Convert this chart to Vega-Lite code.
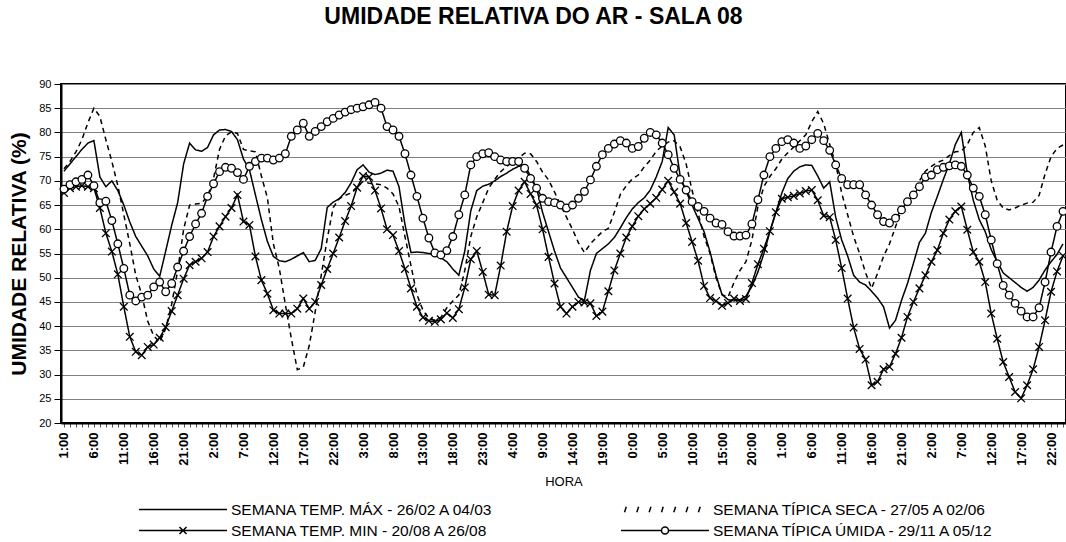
{
"$schema":"https://vega.github.io/schema/vega-lite/v6.json",
"width":1005,"height":339,
"autosize":{"type":"none"},
"padding":{"left":61,"top":84,"right":0,"bottom":119},
"background":"white",
"config":{"view":{"stroke":"black","strokeWidth":2},"font":"Liberation Sans"},
"title":{"text":"UMIDADE RELATIVA DO AR - SALA 08","font":"Liberation Sans","fontSize":23,"fontWeight":"bold","color":"black","anchor":"middle","frame":"group","offset":49,"dx":-30},
"data":{"values":[
{"h":0,"s":"MAX","v":72},{"h":1,"s":"MAX","v":73.5},{"h":2,"s":"MAX","v":75},{"h":3,"s":"MAX","v":76.5},{"h":4,"s":"MAX","v":77.8},{"h":5,"s":"MAX","v":78.3},{"h":6,"s":"MAX","v":70.8},{"h":7,"s":"MAX","v":68.8},{"h":8,"s":"MAX","v":70},{"h":9,"s":"MAX","v":68},
{"h":10,"s":"MAX","v":65},{"h":11,"s":"MAX","v":61.5},{"h":12,"s":"MAX","v":58.5},{"h":13,"s":"MAX","v":56.5},{"h":14,"s":"MAX","v":54.5},{"h":15,"s":"MAX","v":51.8},{"h":16,"s":"MAX","v":50.3},{"h":17,"s":"MAX","v":55.5},{"h":18,"s":"MAX","v":60.8},{"h":19,"s":"MAX","v":65.5},
{"h":20,"s":"MAX","v":73.5},{"h":21,"s":"MAX","v":77.8},{"h":22,"s":"MAX","v":76.4},{"h":23,"s":"MAX","v":76.1},{"h":24,"s":"MAX","v":76.9},{"h":25,"s":"MAX","v":79.5},{"h":26,"s":"MAX","v":80.5},{"h":27,"s":"MAX","v":80.6},{"h":28,"s":"MAX","v":80.2},{"h":29,"s":"MAX","v":78.5},
{"h":30,"s":"MAX","v":74.5},{"h":31,"s":"MAX","v":72.3},{"h":32,"s":"MAX","v":67.1},{"h":33,"s":"MAX","v":62},{"h":34,"s":"MAX","v":57.5},{"h":35,"s":"MAX","v":54.4},{"h":36,"s":"MAX","v":53.5},{"h":37,"s":"MAX","v":53.3},{"h":38,"s":"MAX","v":53.8},{"h":39,"s":"MAX","v":54.5},
{"h":40,"s":"MAX","v":55.2},{"h":41,"s":"MAX","v":53.3},{"h":42,"s":"MAX","v":53.6},{"h":43,"s":"MAX","v":56},{"h":44,"s":"MAX","v":64.5},{"h":45,"s":"MAX","v":65.6},{"h":46,"s":"MAX","v":66.3},{"h":47,"s":"MAX","v":67.6},{"h":48,"s":"MAX","v":69.6},{"h":49,"s":"MAX","v":72.3},
{"h":50,"s":"MAX","v":73.3},{"h":51,"s":"MAX","v":71.8},{"h":52,"s":"MAX","v":71.3},{"h":53,"s":"MAX","v":71.6},{"h":54,"s":"MAX","v":72.2},{"h":55,"s":"MAX","v":72},{"h":56,"s":"MAX","v":68.8},{"h":57,"s":"MAX","v":61},{"h":58,"s":"MAX","v":55.2},{"h":59,"s":"MAX","v":55.3},
{"h":60,"s":"MAX","v":55.2},{"h":61,"s":"MAX","v":55},{"h":62,"s":"MAX","v":54.7},{"h":63,"s":"MAX","v":54.1},{"h":64,"s":"MAX","v":53.3},{"h":65,"s":"MAX","v":51.8},{"h":66,"s":"MAX","v":50.5},{"h":67,"s":"MAX","v":55.5},{"h":68,"s":"MAX","v":63.8},{"h":69,"s":"MAX","v":68},
{"h":70,"s":"MAX","v":68.9},{"h":71,"s":"MAX","v":69.3},{"h":72,"s":"MAX","v":70},{"h":73,"s":"MAX","v":70.9},{"h":74,"s":"MAX","v":71.6},{"h":75,"s":"MAX","v":72.4},{"h":76,"s":"MAX","v":73},{"h":77,"s":"MAX","v":73.2},{"h":78,"s":"MAX","v":71},{"h":79,"s":"MAX","v":68.5},
{"h":80,"s":"MAX","v":63.5},{"h":81,"s":"MAX","v":59.5},{"h":82,"s":"MAX","v":55.5},{"h":83,"s":"MAX","v":52},{"h":84,"s":"MAX","v":50},{"h":85,"s":"MAX","v":48},{"h":86,"s":"MAX","v":46},{"h":87,"s":"MAX","v":45.3},{"h":88,"s":"MAX","v":51.5},{"h":89,"s":"MAX","v":55},
{"h":90,"s":"MAX","v":56},{"h":91,"s":"MAX","v":57},{"h":92,"s":"MAX","v":58.3},{"h":93,"s":"MAX","v":60.3},{"h":94,"s":"MAX","v":62.4},{"h":95,"s":"MAX","v":64.2},{"h":96,"s":"MAX","v":65.5},{"h":97,"s":"MAX","v":66.5},{"h":98,"s":"MAX","v":68.1},{"h":99,"s":"MAX","v":70.8},
{"h":100,"s":"MAX","v":74},{"h":101,"s":"MAX","v":81},{"h":102,"s":"MAX","v":79.5},{"h":103,"s":"MAX","v":71},{"h":104,"s":"MAX","v":67.8},{"h":105,"s":"MAX","v":65},{"h":106,"s":"MAX","v":62.2},{"h":107,"s":"MAX","v":59.5},{"h":108,"s":"MAX","v":55.3},{"h":109,"s":"MAX","v":50.5},
{"h":110,"s":"MAX","v":46.5},{"h":111,"s":"MAX","v":45.5},{"h":112,"s":"MAX","v":45.2},{"h":113,"s":"MAX","v":45.5},{"h":114,"s":"MAX","v":46.2},{"h":115,"s":"MAX","v":48.2},{"h":116,"s":"MAX","v":51.2},{"h":117,"s":"MAX","v":55},{"h":118,"s":"MAX","v":59.5},{"h":119,"s":"MAX","v":63.5},
{"h":120,"s":"MAX","v":67.5},{"h":121,"s":"MAX","v":70.5},{"h":122,"s":"MAX","v":72},{"h":123,"s":"MAX","v":72.9},{"h":124,"s":"MAX","v":73.3},{"h":125,"s":"MAX","v":73.2},{"h":126,"s":"MAX","v":71},{"h":127,"s":"MAX","v":68.5},{"h":128,"s":"MAX","v":69.8},{"h":129,"s":"MAX","v":62.5},
{"h":130,"s":"MAX","v":57.8},{"h":131,"s":"MAX","v":54.5},{"h":132,"s":"MAX","v":50.5},{"h":133,"s":"MAX","v":49.1},{"h":134,"s":"MAX","v":48.5},{"h":135,"s":"MAX","v":47.2},{"h":136,"s":"MAX","v":45.8},{"h":137,"s":"MAX","v":44},{"h":138,"s":"MAX","v":39.6},{"h":139,"s":"MAX","v":41.2},
{"h":140,"s":"MAX","v":45.3},{"h":141,"s":"MAX","v":48.8},{"h":142,"s":"MAX","v":53},{"h":143,"s":"MAX","v":57.3},{"h":144,"s":"MAX","v":59.2},{"h":145,"s":"MAX","v":63.5},{"h":146,"s":"MAX","v":66.8},{"h":147,"s":"MAX","v":70.3},{"h":148,"s":"MAX","v":73.5},{"h":149,"s":"MAX","v":77.5},
{"h":150,"s":"MAX","v":80},{"h":151,"s":"MAX","v":71.5},{"h":152,"s":"MAX","v":66},{"h":153,"s":"MAX","v":62},{"h":154,"s":"MAX","v":59.5},{"h":155,"s":"MAX","v":55.8},{"h":156,"s":"MAX","v":53.3},{"h":157,"s":"MAX","v":51},{"h":158,"s":"MAX","v":50},{"h":159,"s":"MAX","v":49},
{"h":160,"s":"MAX","v":48},{"h":161,"s":"MAX","v":47.2},{"h":162,"s":"MAX","v":48},{"h":163,"s":"MAX","v":49.5},{"h":164,"s":"MAX","v":51.6},{"h":165,"s":"MAX","v":53.3},{"h":166,"s":"MAX","v":54.8},{"h":167,"s":"MAX","v":57},
{"h":0,"s":"SECA","v":72.5},{"h":1,"s":"SECA","v":74},{"h":2,"s":"SECA","v":76},{"h":3,"s":"SECA","v":78.5},{"h":4,"s":"SECA","v":82},{"h":5,"s":"SECA","v":85},{"h":6,"s":"SECA","v":83.3},{"h":7,"s":"SECA","v":78.5},{"h":8,"s":"SECA","v":74},{"h":9,"s":"SECA","v":69},
{"h":10,"s":"SECA","v":63},{"h":11,"s":"SECA","v":57},{"h":12,"s":"SECA","v":50.5},{"h":13,"s":"SECA","v":46.5},{"h":14,"s":"SECA","v":41},{"h":15,"s":"SECA","v":38},{"h":16,"s":"SECA","v":36.7},{"h":17,"s":"SECA","v":39.5},{"h":18,"s":"SECA","v":44.5},{"h":19,"s":"SECA","v":51.5},
{"h":20,"s":"SECA","v":60},{"h":21,"s":"SECA","v":65},{"h":22,"s":"SECA","v":65.2},{"h":23,"s":"SECA","v":65.4},{"h":24,"s":"SECA","v":66.8},{"h":25,"s":"SECA","v":70.5},{"h":26,"s":"SECA","v":76.5},{"h":27,"s":"SECA","v":79.3},{"h":28,"s":"SECA","v":80.1},{"h":29,"s":"SECA","v":79.8},
{"h":30,"s":"SECA","v":76.5},{"h":31,"s":"SECA","v":76.2},{"h":32,"s":"SECA","v":76},{"h":33,"s":"SECA","v":71},{"h":34,"s":"SECA","v":66.5},{"h":35,"s":"SECA","v":57},{"h":36,"s":"SECA","v":51.9},{"h":37,"s":"SECA","v":44.5},{"h":38,"s":"SECA","v":37.5},{"h":39,"s":"SECA","v":31},
{"h":40,"s":"SECA","v":31.5},{"h":41,"s":"SECA","v":36},{"h":42,"s":"SECA","v":43},{"h":43,"s":"SECA","v":50.5},{"h":44,"s":"SECA","v":58},{"h":45,"s":"SECA","v":64.5},{"h":46,"s":"SECA","v":66.3},{"h":47,"s":"SECA","v":67},{"h":48,"s":"SECA","v":67.5},{"h":49,"s":"SECA","v":68.8},
{"h":50,"s":"SECA","v":69.9},{"h":51,"s":"SECA","v":69.5},{"h":52,"s":"SECA","v":69.4},{"h":53,"s":"SECA","v":69.2},{"h":54,"s":"SECA","v":68.5},{"h":55,"s":"SECA","v":67.3},{"h":56,"s":"SECA","v":64.7},{"h":57,"s":"SECA","v":58.5},{"h":58,"s":"SECA","v":52.5},{"h":59,"s":"SECA","v":46.5},
{"h":60,"s":"SECA","v":43.3},{"h":61,"s":"SECA","v":41.6},{"h":62,"s":"SECA","v":41.2},{"h":63,"s":"SECA","v":41.8},{"h":64,"s":"SECA","v":43.8},{"h":65,"s":"SECA","v":45.2},{"h":66,"s":"SECA","v":46.4},{"h":67,"s":"SECA","v":51.5},{"h":68,"s":"SECA","v":58.5},{"h":69,"s":"SECA","v":62.6},
{"h":70,"s":"SECA","v":65.5},{"h":71,"s":"SECA","v":68.5},{"h":72,"s":"SECA","v":70.3},{"h":73,"s":"SECA","v":71.9},{"h":74,"s":"SECA","v":73},{"h":75,"s":"SECA","v":73.9},{"h":76,"s":"SECA","v":74.7},{"h":77,"s":"SECA","v":75.7},{"h":78,"s":"SECA","v":75.6},{"h":79,"s":"SECA","v":74},
{"h":80,"s":"SECA","v":71.8},{"h":81,"s":"SECA","v":70.2},{"h":82,"s":"SECA","v":67.7},{"h":83,"s":"SECA","v":65},{"h":84,"s":"SECA","v":62.5},{"h":85,"s":"SECA","v":60},{"h":86,"s":"SECA","v":57.2},{"h":87,"s":"SECA","v":55.2},{"h":88,"s":"SECA","v":57},{"h":89,"s":"SECA","v":58.3},
{"h":90,"s":"SECA","v":59.5},{"h":91,"s":"SECA","v":60.2},{"h":92,"s":"SECA","v":63.5},{"h":93,"s":"SECA","v":67.2},{"h":94,"s":"SECA","v":69},{"h":95,"s":"SECA","v":70.4},{"h":96,"s":"SECA","v":71.2},{"h":97,"s":"SECA","v":72.9},{"h":98,"s":"SECA","v":74.3},{"h":99,"s":"SECA","v":76.1},
{"h":100,"s":"SECA","v":77.2},{"h":101,"s":"SECA","v":78},{"h":102,"s":"SECA","v":78.3},{"h":103,"s":"SECA","v":77},{"h":104,"s":"SECA","v":73.5},{"h":105,"s":"SECA","v":68},{"h":106,"s":"SECA","v":63.3},{"h":107,"s":"SECA","v":58.5},{"h":108,"s":"SECA","v":55},{"h":109,"s":"SECA","v":50},
{"h":110,"s":"SECA","v":46.5},{"h":111,"s":"SECA","v":46},{"h":112,"s":"SECA","v":49},{"h":113,"s":"SECA","v":51.5},{"h":114,"s":"SECA","v":53.3},{"h":115,"s":"SECA","v":57.8},{"h":116,"s":"SECA","v":64.7},{"h":117,"s":"SECA","v":68.8},{"h":118,"s":"SECA","v":70.9},{"h":119,"s":"SECA","v":72.5},
{"h":120,"s":"SECA","v":74.5},{"h":121,"s":"SECA","v":75.8},{"h":122,"s":"SECA","v":77},{"h":123,"s":"SECA","v":78.3},{"h":124,"s":"SECA","v":79.5},{"h":125,"s":"SECA","v":82.2},{"h":126,"s":"SECA","v":84.3},{"h":127,"s":"SECA","v":81.8},{"h":128,"s":"SECA","v":77.5},{"h":129,"s":"SECA","v":73.5},
{"h":130,"s":"SECA","v":67.5},{"h":131,"s":"SECA","v":63},{"h":132,"s":"SECA","v":58.5},{"h":133,"s":"SECA","v":55},{"h":134,"s":"SECA","v":51},{"h":135,"s":"SECA","v":47.8},{"h":136,"s":"SECA","v":50.9},{"h":137,"s":"SECA","v":54.4},{"h":138,"s":"SECA","v":57},{"h":139,"s":"SECA","v":60.5},
{"h":140,"s":"SECA","v":64},{"h":141,"s":"SECA","v":66},{"h":142,"s":"SECA","v":68},{"h":143,"s":"SECA","v":70},{"h":144,"s":"SECA","v":72},{"h":145,"s":"SECA","v":73},{"h":146,"s":"SECA","v":73.8},{"h":147,"s":"SECA","v":74.3},{"h":148,"s":"SECA","v":75.2},{"h":149,"s":"SECA","v":76},
{"h":150,"s":"SECA","v":76.1},{"h":151,"s":"SECA","v":77.5},{"h":152,"s":"SECA","v":80},{"h":153,"s":"SECA","v":81},{"h":154,"s":"SECA","v":77.2},{"h":155,"s":"SECA","v":70},{"h":156,"s":"SECA","v":66},{"h":157,"s":"SECA","v":64.4},{"h":158,"s":"SECA","v":64},{"h":159,"s":"SECA","v":64.4},
{"h":160,"s":"SECA","v":65},{"h":161,"s":"SECA","v":65.4},{"h":162,"s":"SECA","v":65.6},{"h":163,"s":"SECA","v":67},{"h":164,"s":"SECA","v":71.4},{"h":165,"s":"SECA","v":75},{"h":166,"s":"SECA","v":76.7},{"h":167,"s":"SECA","v":77.4},
{"h":0,"s":"MIN","v":67.5},{"h":1,"s":"MIN","v":68.5},{"h":2,"s":"MIN","v":68.8},{"h":3,"s":"MIN","v":69},{"h":4,"s":"MIN","v":68.8},{"h":5,"s":"MIN","v":68.5},{"h":6,"s":"MIN","v":64.4},{"h":7,"s":"MIN","v":59.2},{"h":8,"s":"MIN","v":55.4},{"h":9,"s":"MIN","v":50.7},
{"h":10,"s":"MIN","v":44},{"h":11,"s":"MIN","v":37.8},{"h":12,"s":"MIN","v":34.7},{"h":13,"s":"MIN","v":34},{"h":14,"s":"MIN","v":35.7},{"h":15,"s":"MIN","v":36.2},{"h":16,"s":"MIN","v":37.6},{"h":17,"s":"MIN","v":39.8},{"h":18,"s":"MIN","v":43.1},{"h":19,"s":"MIN","v":46.4},
{"h":20,"s":"MIN","v":49.8},{"h":21,"s":"MIN","v":52.6},{"h":22,"s":"MIN","v":53.3},{"h":23,"s":"MIN","v":54},{"h":24,"s":"MIN","v":55.3},{"h":25,"s":"MIN","v":58.5},{"h":26,"s":"MIN","v":60.6},{"h":27,"s":"MIN","v":62.6},{"h":28,"s":"MIN","v":64.4},{"h":29,"s":"MIN","v":67.1},
{"h":30,"s":"MIN","v":61.6},{"h":31,"s":"MIN","v":60.9},{"h":32,"s":"MIN","v":54.4},{"h":33,"s":"MIN","v":49.5},{"h":34,"s":"MIN","v":46.7},{"h":35,"s":"MIN","v":43.3},{"h":36,"s":"MIN","v":42.6},{"h":37,"s":"MIN","v":42.6},{"h":38,"s":"MIN","v":42.6},{"h":39,"s":"MIN","v":43.6},
{"h":40,"s":"MIN","v":45.7},{"h":41,"s":"MIN","v":43.6},{"h":42,"s":"MIN","v":45},{"h":43,"s":"MIN","v":48.5},{"h":44,"s":"MIN","v":51.8},{"h":45,"s":"MIN","v":55},{"h":46,"s":"MIN","v":58.3},{"h":47,"s":"MIN","v":61.7},{"h":48,"s":"MIN","v":64.8},{"h":49,"s":"MIN","v":68.6},
{"h":50,"s":"MIN","v":71},{"h":51,"s":"MIN","v":70.8},{"h":52,"s":"MIN","v":68},{"h":53,"s":"MIN","v":64.3},{"h":54,"s":"MIN","v":60},{"h":55,"s":"MIN","v":58.8},{"h":56,"s":"MIN","v":55.5},{"h":57,"s":"MIN","v":51.8},{"h":58,"s":"MIN","v":47.8},{"h":59,"s":"MIN","v":44},
{"h":60,"s":"MIN","v":41.8},{"h":61,"s":"MIN","v":41.1},{"h":62,"s":"MIN","v":40.9},{"h":63,"s":"MIN","v":41.4},{"h":64,"s":"MIN","v":42.7},{"h":65,"s":"MIN","v":41.7},{"h":66,"s":"MIN","v":43.5},{"h":67,"s":"MIN","v":48},{"h":68,"s":"MIN","v":53.8},{"h":69,"s":"MIN","v":55.5},
{"h":70,"s":"MIN","v":51.2},{"h":71,"s":"MIN","v":46.5},{"h":72,"s":"MIN","v":46.4},{"h":73,"s":"MIN","v":52.5},{"h":74,"s":"MIN","v":59.5},{"h":75,"s":"MIN","v":64.8},{"h":76,"s":"MIN","v":68},{"h":77,"s":"MIN","v":69.8},{"h":78,"s":"MIN","v":67.3},{"h":79,"s":"MIN","v":65},
{"h":80,"s":"MIN","v":60},{"h":81,"s":"MIN","v":54.3},{"h":82,"s":"MIN","v":48.8},{"h":83,"s":"MIN","v":44},{"h":84,"s":"MIN","v":42.6},{"h":85,"s":"MIN","v":44},{"h":86,"s":"MIN","v":45},{"h":87,"s":"MIN","v":44.9},{"h":88,"s":"MIN","v":44.7},{"h":89,"s":"MIN","v":42.1},
{"h":90,"s":"MIN","v":43},{"h":91,"s":"MIN","v":47.2},{"h":92,"s":"MIN","v":51.5},{"h":93,"s":"MIN","v":55},{"h":94,"s":"MIN","v":58.3},{"h":95,"s":"MIN","v":60.6},{"h":96,"s":"MIN","v":62.7},{"h":97,"s":"MIN","v":64.2},{"h":98,"s":"MIN","v":65.3},{"h":99,"s":"MIN","v":66.5},
{"h":100,"s":"MIN","v":68.2},{"h":101,"s":"MIN","v":70},{"h":102,"s":"MIN","v":67.7},{"h":103,"s":"MIN","v":65.3},{"h":104,"s":"MIN","v":61.3},{"h":105,"s":"MIN","v":57.4},{"h":106,"s":"MIN","v":53.5},{"h":107,"s":"MIN","v":48.3},{"h":108,"s":"MIN","v":45.8},{"h":109,"s":"MIN","v":45.2},
{"h":110,"s":"MIN","v":44.2},{"h":111,"s":"MIN","v":44.8},{"h":112,"s":"MIN","v":45.7},{"h":113,"s":"MIN","v":45.2},{"h":114,"s":"MIN","v":45.6},{"h":115,"s":"MIN","v":48.9},{"h":116,"s":"MIN","v":52.8},{"h":117,"s":"MIN","v":56},{"h":118,"s":"MIN","v":59.6},{"h":119,"s":"MIN","v":63.5},
{"h":120,"s":"MIN","v":66.3},{"h":121,"s":"MIN","v":66.6},{"h":122,"s":"MIN","v":66.9},{"h":123,"s":"MIN","v":67.4},{"h":124,"s":"MIN","v":67.9},{"h":125,"s":"MIN","v":68.1},{"h":126,"s":"MIN","v":66},{"h":127,"s":"MIN","v":62.8},{"h":128,"s":"MIN","v":62.5},{"h":129,"s":"MIN","v":57.8},
{"h":130,"s":"MIN","v":52},{"h":131,"s":"MIN","v":45.7},{"h":132,"s":"MIN","v":39.7},{"h":133,"s":"MIN","v":35.3},{"h":134,"s":"MIN","v":33.1},{"h":135,"s":"MIN","v":27.8},{"h":136,"s":"MIN","v":28.5},{"h":137,"s":"MIN","v":31.1},{"h":138,"s":"MIN","v":31.6},{"h":139,"s":"MIN","v":34.3},
{"h":140,"s":"MIN","v":37.6},{"h":141,"s":"MIN","v":41.9},{"h":142,"s":"MIN","v":45},{"h":143,"s":"MIN","v":47.8},{"h":144,"s":"MIN","v":50.5},{"h":145,"s":"MIN","v":53.3},{"h":146,"s":"MIN","v":55.7},{"h":147,"s":"MIN","v":59.2},{"h":148,"s":"MIN","v":62},{"h":149,"s":"MIN","v":63.7},
{"h":150,"s":"MIN","v":64.7},{"h":151,"s":"MIN","v":59.9},{"h":152,"s":"MIN","v":55.3},{"h":153,"s":"MIN","v":53.3},{"h":154,"s":"MIN","v":49.1},{"h":155,"s":"MIN","v":42.6},{"h":156,"s":"MIN","v":37.4},{"h":157,"s":"MIN","v":32.6},{"h":158,"s":"MIN","v":29.5},{"h":159,"s":"MIN","v":26.4},
{"h":160,"s":"MIN","v":25.1},{"h":161,"s":"MIN","v":27.8},{"h":162,"s":"MIN","v":31.1},{"h":163,"s":"MIN","v":35.7},{"h":164,"s":"MIN","v":41.2},{"h":165,"s":"MIN","v":47.1},{"h":166,"s":"MIN","v":51.3},{"h":167,"s":"MIN","v":54.5},
{"h":0,"s":"UMIDA","v":68.3},{"h":1,"s":"UMIDA","v":69.2},{"h":2,"s":"UMIDA","v":69.8},{"h":3,"s":"UMIDA","v":70.3},{"h":4,"s":"UMIDA","v":71.2},{"h":5,"s":"UMIDA","v":69},{"h":6,"s":"UMIDA","v":65.5},{"h":7,"s":"UMIDA","v":65.8},{"h":8,"s":"UMIDA","v":61.8},{"h":9,"s":"UMIDA","v":57},
{"h":10,"s":"UMIDA","v":51.9},{"h":11,"s":"UMIDA","v":46.4},{"h":12,"s":"UMIDA","v":45.2},{"h":13,"s":"UMIDA","v":46},{"h":14,"s":"UMIDA","v":46.4},{"h":15,"s":"UMIDA","v":48.1},{"h":16,"s":"UMIDA","v":49.1},{"h":17,"s":"UMIDA","v":47.1},{"h":18,"s":"UMIDA","v":48.8},{"h":19,"s":"UMIDA","v":52.2},
{"h":20,"s":"UMIDA","v":55.5},{"h":21,"s":"UMIDA","v":58.5},{"h":22,"s":"UMIDA","v":61.1},{"h":23,"s":"UMIDA","v":63.3},{"h":24,"s":"UMIDA","v":66.8},{"h":25,"s":"UMIDA","v":69.4},{"h":26,"s":"UMIDA","v":71.9},{"h":27,"s":"UMIDA","v":72.8},{"h":28,"s":"UMIDA","v":72.6},{"h":29,"s":"UMIDA","v":71.7},
{"h":30,"s":"UMIDA","v":70.3},{"h":31,"s":"UMIDA","v":73},{"h":32,"s":"UMIDA","v":74},{"h":33,"s":"UMIDA","v":74.7},{"h":34,"s":"UMIDA","v":74.7},{"h":35,"s":"UMIDA","v":74.3},{"h":36,"s":"UMIDA","v":74.7},{"h":37,"s":"UMIDA","v":75.6},{"h":38,"s":"UMIDA","v":79.2},{"h":39,"s":"UMIDA","v":80.5},
{"h":40,"s":"UMIDA","v":81.9},{"h":41,"s":"UMIDA","v":79.2},{"h":42,"s":"UMIDA","v":80.2},{"h":43,"s":"UMIDA","v":81.2},{"h":44,"s":"UMIDA","v":82.2},{"h":45,"s":"UMIDA","v":82.9},{"h":46,"s":"UMIDA","v":83.6},{"h":47,"s":"UMIDA","v":84.2},{"h":48,"s":"UMIDA","v":84.7},{"h":49,"s":"UMIDA","v":85},
{"h":50,"s":"UMIDA","v":85.3},{"h":51,"s":"UMIDA","v":85.7},{"h":52,"s":"UMIDA","v":86.2},{"h":53,"s":"UMIDA","v":85},{"h":54,"s":"UMIDA","v":81.2},{"h":55,"s":"UMIDA","v":80.5},{"h":56,"s":"UMIDA","v":79.2},{"h":57,"s":"UMIDA","v":75.6},{"h":58,"s":"UMIDA","v":71.2},{"h":59,"s":"UMIDA","v":66.8},
{"h":60,"s":"UMIDA","v":62.3},{"h":61,"s":"UMIDA","v":58.2},{"h":62,"s":"UMIDA","v":55.1},{"h":63,"s":"UMIDA","v":54.7},{"h":64,"s":"UMIDA","v":55.6},{"h":65,"s":"UMIDA","v":58.5},{"h":66,"s":"UMIDA","v":63},{"h":67,"s":"UMIDA","v":67.1},{"h":68,"s":"UMIDA","v":73.3},{"h":69,"s":"UMIDA","v":75},
{"h":70,"s":"UMIDA","v":75.6},{"h":71,"s":"UMIDA","v":75.8},{"h":72,"s":"UMIDA","v":75},{"h":73,"s":"UMIDA","v":74.3},{"h":74,"s":"UMIDA","v":74},{"h":75,"s":"UMIDA","v":74},{"h":76,"s":"UMIDA","v":74},{"h":77,"s":"UMIDA","v":72.6},{"h":78,"s":"UMIDA","v":70.5},{"h":79,"s":"UMIDA","v":68.5},
{"h":80,"s":"UMIDA","v":66.4},{"h":81,"s":"UMIDA","v":65.7},{"h":82,"s":"UMIDA","v":65.5},{"h":83,"s":"UMIDA","v":65},{"h":84,"s":"UMIDA","v":64.4},{"h":85,"s":"UMIDA","v":65},{"h":86,"s":"UMIDA","v":66.4},{"h":87,"s":"UMIDA","v":67.8},{"h":88,"s":"UMIDA","v":70.2},{"h":89,"s":"UMIDA","v":73},
{"h":90,"s":"UMIDA","v":75.4},{"h":91,"s":"UMIDA","v":76.7},{"h":92,"s":"UMIDA","v":77.6},{"h":93,"s":"UMIDA","v":78.3},{"h":94,"s":"UMIDA","v":77.8},{"h":95,"s":"UMIDA","v":76.7},{"h":96,"s":"UMIDA","v":77.1},{"h":97,"s":"UMIDA","v":78.8},{"h":98,"s":"UMIDA","v":80},{"h":99,"s":"UMIDA","v":79.5},
{"h":100,"s":"UMIDA","v":77.8},{"h":101,"s":"UMIDA","v":75.4},{"h":102,"s":"UMIDA","v":72.6},{"h":103,"s":"UMIDA","v":70.3},{"h":104,"s":"UMIDA","v":68.1},{"h":105,"s":"UMIDA","v":65.7},{"h":106,"s":"UMIDA","v":64.7},{"h":107,"s":"UMIDA","v":63.7},{"h":108,"s":"UMIDA","v":62.3},{"h":109,"s":"UMIDA","v":61.3},
{"h":110,"s":"UMIDA","v":61},{"h":111,"s":"UMIDA","v":59.5},{"h":112,"s":"UMIDA","v":58.6},{"h":113,"s":"UMIDA","v":58.6},{"h":114,"s":"UMIDA","v":58.8},{"h":115,"s":"UMIDA","v":61.1},{"h":116,"s":"UMIDA","v":66.1},{"h":117,"s":"UMIDA","v":71.2},{"h":118,"s":"UMIDA","v":75},{"h":119,"s":"UMIDA","v":76.7},
{"h":120,"s":"UMIDA","v":78.1},{"h":121,"s":"UMIDA","v":78.5},{"h":122,"s":"UMIDA","v":77.8},{"h":123,"s":"UMIDA","v":76.7},{"h":124,"s":"UMIDA","v":77.2},{"h":125,"s":"UMIDA","v":78.5},{"h":126,"s":"UMIDA","v":79.8},{"h":127,"s":"UMIDA","v":78.3},{"h":128,"s":"UMIDA","v":76.3},{"h":129,"s":"UMIDA","v":73.3},
{"h":130,"s":"UMIDA","v":70.5},{"h":131,"s":"UMIDA","v":69.2},{"h":132,"s":"UMIDA","v":69.2},{"h":133,"s":"UMIDA","v":69.2},{"h":134,"s":"UMIDA","v":67.1},{"h":135,"s":"UMIDA","v":65},{"h":136,"s":"UMIDA","v":63},{"h":137,"s":"UMIDA","v":61.6},{"h":138,"s":"UMIDA","v":61.3},{"h":139,"s":"UMIDA","v":62.3},
{"h":140,"s":"UMIDA","v":64},{"h":141,"s":"UMIDA","v":65.7},{"h":142,"s":"UMIDA","v":67.1},{"h":143,"s":"UMIDA","v":68.8},{"h":144,"s":"UMIDA","v":70.8},{"h":145,"s":"UMIDA","v":71.2},{"h":146,"s":"UMIDA","v":72.3},{"h":147,"s":"UMIDA","v":72.8},{"h":148,"s":"UMIDA","v":73.1},{"h":149,"s":"UMIDA","v":73.3},
{"h":150,"s":"UMIDA","v":73},{"h":151,"s":"UMIDA","v":71.2},{"h":152,"s":"UMIDA","v":68.5},{"h":153,"s":"UMIDA","v":66.8},{"h":154,"s":"UMIDA","v":63},{"h":155,"s":"UMIDA","v":57.8},{"h":156,"s":"UMIDA","v":52.9},{"h":157,"s":"UMIDA","v":48.4},{"h":158,"s":"UMIDA","v":46.4},{"h":159,"s":"UMIDA","v":44.7},
{"h":160,"s":"UMIDA","v":43.1},{"h":161,"s":"UMIDA","v":41.9},{"h":162,"s":"UMIDA","v":41.9},{"h":163,"s":"UMIDA","v":43.8},{"h":164,"s":"UMIDA","v":49.1},{"h":165,"s":"UMIDA","v":55.3},{"h":166,"s":"UMIDA","v":60.6},{"h":167,"s":"UMIDA","v":63.7}
]},
"encoding":{
"x":{"field":"h","type":"quantitative","scale":{"domain":[-0.5,167.5],"nice":false,"zero":false},
"axis":{"values":[0,1,2,3,4,5,6,7,8,9,10,11,12,13,14,15,16,17,18,19,20,21,22,23,24,25,26,27,28,29,30,31,32,33,34,35,36,37,38,39,40,41,42,43,44,45,46,47,48,49,50,51,52,53,54,55,56,57,58,59,60,61,62,63,64,65,66,67,68,69,70,71,72,73,74,75,76,77,78,79,80,81,82,83,84,85,86,87,88,89,90,91,92,93,94,95,96,97,98,99,100,101,102,103,104,105,106,107,108,109,110,111,112,113,114,115,116,117,118,119,120,121,122,123,124,125,126,127,128,129,130,131,132,133,134,135,136,137,138,139,140,141,142,143,144,145,146,147,148,149,150,151,152,153,154,155,156,157,158,159,160,161,162,163,164,165,166,167],
"labelExpr":"datum.value % 5 == 0 ? ((datum.value + 1) % 24) + ':00' : ''",
"labelAngle":270,"labelFont":"Liberation Sans","labelFontWeight":"bold","labelFontSize":13,"labelColor":"black","labelPadding":5,"labelOverlap":false,"labelBound":false,"labelFlush":false,
"tickSize":4,"tickColor":"#555555","domainColor":"black","domainWidth":2,"grid":false,
"title":"HORA","titleFont":"Liberation Sans","titleFontWeight":"normal","titleFontSize":13,"titleColor":"black","titleY":58,"titleBaseline":"middle"}},
"y":{"field":"v","type":"quantitative","scale":{"domain":[20,90],"nice":false,"zero":false},
"axis":{"values":[20,25,30,35,40,45,50,55,60,65,70,75,80,85,90],"grid":true,"gridColor":"#808080","gridWidth":1,"domainColor":"black","domainWidth":2,"tickColor":"black","tickSize":7,
"labelFont":"Liberation Sans","labelFontSize":11,"labelColor":"black","labelPadding":3,
"title":"UMIDADE RELATIVA (%)","titleFont":"Liberation Sans","titleFontSize":21,"titleFontWeight":"bold","titleColor":"black","titleX":-42,"titleBaseline":"middle"}}
},
"layer":[
{"mark":{"type":"line","color":"black","strokeWidth":1.5},
"encoding":{"strokeDash":{"field":"s","type":"nominal","scale":{"domain":["MAX","SECA","MIN","UMIDA"],"range":[[1,0],[5,4],[1,0],[1,0]]},"legend":null}}},
{"transform":[{"filter":"datum.s == 'MIN' || datum.s == 'UMIDA'"}],
"mark":{"type":"point","filled":false,"fill":"white","stroke":"black","strokeWidth":1.3,"size":58,"opacity":1},
"encoding":{"shape":{"field":"s","type":"nominal","scale":{"domain":["MIN","UMIDA"],"range":["M-1,-1L1,1M-1,1L1,-1","circle"]},"legend":null}}},
{"transform":[{"filter":"false"}],
"mark":{"type":"point","filled":false,"color":"black"},
"encoding":{"shape":{"field":"s","type":"nominal",
"scale":{"domain":["MAX","MIN","SECA","UMIDA"],"range":["M-1,0H1","M-1,0H1M-0.08,-0.08L0.08,0.08M-0.08,0.08L0.08,-0.08","M-0.92,0.06l0.04,-0.12M-0.64,0.06l0.04,-0.12M-0.36,0.06l0.04,-0.12M-0.08,0.06l0.04,-0.12M0.2,0.06l0.04,-0.12M0.48,0.06l0.04,-0.12M0.76,0.06l0.04,-0.12","M-1,0H-0.08M0.08,0H1M0.08,0A0.08,0.08,0,1,1,-0.08,0A0.08,0.08,0,1,1,0.08,0"]},
"legend":{"title":null,"orient":"none","legendX":77,"legendY":417,"columns":2,"columnPadding":125,"rowPadding":4,"clipHeight":17,
"symbolSize":7744,"symbolStrokeWidth":1.5,"symbolStrokeColor":"black","symbolFillColor":"transparent","symbolOpacity":1,
"labelFont":"Liberation Sans","labelFontSize":15.5,"labelColor":"black","labelOffset":3,"labelLimit":500,
"labelExpr":"datum.value == 'MAX' ? 'SEMANA TEMP. MÁX - 26/02 A 04/03' : datum.value == 'SECA' ? 'SEMANA TÍPICA SECA - 27/05 A 02/06' : datum.value == 'MIN' ? 'SEMANA TEMP. MIN - 20/08 A 26/08' : 'SEMANA TÍPICA ÚMIDA - 29/11 A 05/12'"}}}}
],
"resolve":{"scale":{"shape":"independent"}}
}
